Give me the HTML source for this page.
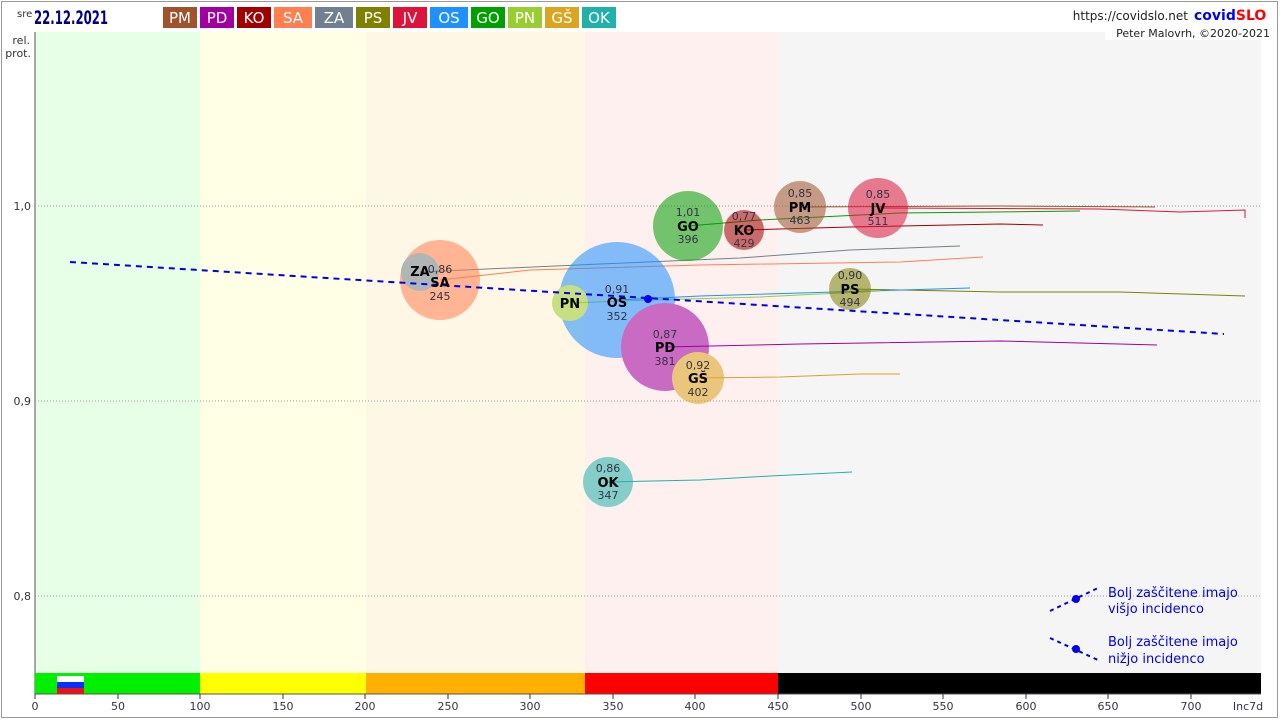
<!DOCTYPE html>
<html><head><meta charset="utf-8"><style>
body{margin:0;background:#fff;}
svg{display:block;font-family:"DejaVu Sans","Liberation Sans",sans-serif;}
</style></head><body>
<svg width="1280" height="720" viewBox="0 0 1280 720" xmlns="http://www.w3.org/2000/svg">
<rect x="0" y="0" width="1280" height="720" fill="#fff"/>
<rect x="1.5" y="1.5" width="1276" height="716" fill="none" stroke="#999" stroke-width="1"/>
<!-- bands -->
<rect x="35" y="32" width="165" height="641" fill="#e6ffe6"/>
<rect x="200" y="32" width="166" height="641" fill="#ffffe6"/>
<rect x="366" y="32" width="219" height="641" fill="#fff7e6"/>
<rect x="585" y="32" width="193" height="641" fill="#fff0f0"/>
<rect x="778" y="32" width="483" height="641" fill="#f5f5f5"/>
<rect x="1105" y="26" width="160" height="14" fill="#fff"/>
<line x1="35" y1="32" x2="35" y2="696" stroke="#555"/>
<!-- grid -->
<g stroke="#999" stroke-dasharray="1,2">
<line x1="35" y1="206" x2="1261" y2="206"/>
<line x1="35" y1="401" x2="1261" y2="401"/>
<line x1="35" y1="596" x2="1261" y2="596"/>
</g>
<g font-size="11" fill="#333" text-anchor="end">
<text x="31" y="210">1,0</text><text x="31" y="405">0,9</text><text x="31" y="600">0,8</text>
<text x="30" y="44">rel.</text><text x="31" y="57">prot.</text>
</g>
<!-- color bar -->
<rect x="35" y="673" width="165" height="21" fill="#00f000"/>
<rect x="200" y="673" width="166" height="21" fill="#ffff00"/>
<rect x="366" y="673" width="219" height="21" fill="#ffb000"/>
<rect x="585" y="673" width="193" height="21" fill="#ff0000"/>
<rect x="778" y="673" width="483" height="21" fill="#000"/>
<rect x="57" y="676" width="27" height="6" fill="#fff"/><rect x="57" y="682" width="27" height="6" fill="#0033ff"/><rect x="57" y="688" width="27" height="6" fill="#ee1111"/>
<line x1="35" y1="694" x2="1261" y2="694" stroke="#555"/>
<g stroke="#333">
<line x1="35" y1="694" x2="35" y2="699"/><line x1="118" y1="694" x2="118" y2="699"/><line x1="200" y1="694" x2="200" y2="699"/><line x1="283" y1="694" x2="283" y2="699"/><line x1="365" y1="694" x2="365" y2="699"/><line x1="448" y1="694" x2="448" y2="699"/><line x1="530" y1="694" x2="530" y2="699"/><line x1="613" y1="694" x2="613" y2="699"/><line x1="695" y1="694" x2="695" y2="699"/><line x1="778" y1="694" x2="778" y2="699"/><line x1="861" y1="694" x2="861" y2="699"/><line x1="943" y1="694" x2="943" y2="699"/><line x1="1026" y1="694" x2="1026" y2="699"/><line x1="1108" y1="694" x2="1108" y2="699"/><line x1="1191" y1="694" x2="1191" y2="699"/>
</g>
<g font-size="11" fill="#334" text-anchor="middle">
<text x="35" y="710">0</text><text x="118" y="710">50</text><text x="200" y="710">100</text><text x="283" y="710">150</text><text x="365" y="710">200</text><text x="448" y="710">250</text><text x="530" y="710">300</text><text x="613" y="710">350</text><text x="695" y="710">400</text><text x="778" y="710">450</text><text x="861" y="710">500</text><text x="943" y="710">550</text><text x="1026" y="710">600</text><text x="1108" y="710">650</text><text x="1191" y="710">700</text><text x="1248" y="710">Inc7d</text>
</g>
<!-- header -->
<text x="17" y="17" font-size="10" fill="#333">sre</text>
<text x="34" y="24" font-size="19" font-weight="bold" fill="#000080" textLength="74" lengthAdjust="spacingAndGlyphs">22.12.2021</text>
<g font-size="15" fill="#fff" text-anchor="middle">
<rect x="163" y="7" width="34" height="21" fill="#a0522d"/><text x="180" y="23">PM</text>
<rect x="200" y="7" width="34" height="21" fill="#a000a0"/><text x="217" y="23">PD</text>
<rect x="237" y="7" width="34" height="21" fill="#a00000"/><text x="254" y="23">KO</text>
<rect x="274" y="7" width="38" height="21" fill="#ff7f50"/><text x="293" y="23">SA</text>
<rect x="315" y="7" width="38" height="21" fill="#708090"/><text x="334" y="23">ZA</text>
<rect x="356" y="7" width="34" height="21" fill="#808000"/><text x="373" y="23">PS</text>
<rect x="393" y="7" width="34" height="21" fill="#dc143c"/><text x="410" y="23">JV</text>
<rect x="430" y="7" width="38" height="21" fill="#1e90ff"/><text x="449" y="23">OS</text>
<rect x="471" y="7" width="34" height="21" fill="#00a000"/><text x="488" y="23">GO</text>
<rect x="508" y="7" width="34" height="21" fill="#9acd32"/><text x="525" y="23">PN</text>
<rect x="545" y="7" width="34" height="21" fill="#daa520"/><text x="562" y="23">GŠ</text>
<rect x="582" y="7" width="34" height="21" fill="#20b2aa"/><text x="599" y="23">OK</text>
</g>
<text x="1188" y="20" font-size="12" fill="#222" text-anchor="end">https://covidslo.net</text>
<text x="1194" y="20" font-size="14" font-weight="bold" fill="#0000ff">covid<tspan fill="#ff0000">SLO</tspan></text>
<text x="1270" y="37" font-size="11" fill="#222" text-anchor="end">Peter Malovrh, ©2020-2021</text>
<!-- trails -->
<g fill="none" stroke-width="1">
<polyline points="800,207 1000,206 1155,207" stroke="#a0522d"/>
<polyline points="878,208 1100,209 1180,212 1245,210 1245,218" stroke="#dc143c"/>
<polyline points="688,226 760,220 900,213 1080,211" stroke="#00a000"/>
<polyline points="744,230 850,227 1000,224 1043,225" stroke="#a00000"/>
<polyline points="420,272 600,264 740,258 850,250 960,246" stroke="#708090"/>
<polyline points="440,280 530,270 700,265 900,262 983,257" stroke="#ff7f50"/>
<polyline points="850,289 1000,292 1120,292 1245,296" stroke="#808000"/>
<polyline points="617,300 700,296 800,293 970,288" stroke="#1e90ff"/>
<polyline points="570,303 650,300 760,297 880,291" stroke="#9acd32"/>
<polyline points="665,347 800,344 1000,341 1157,345" stroke="#a000a0"/>
<polyline points="698,378 780,377 860,374 900,374" stroke="#daa520"/>
<polyline points="608,482 700,480 770,476 852,472" stroke="#20b2aa"/>
</g>
<!-- bubbles -->
<g opacity="0.55">
<circle cx="440" cy="280" r="40" fill="#ff7f50"/>
<circle cx="617" cy="300" r="58" fill="#1e90ff"/>
<circle cx="665" cy="347" r="44" fill="#a000a0"/>
<circle cx="698" cy="378" r="26" fill="#daa520"/>
<circle cx="688" cy="226" r="35" fill="#00a000"/>
<circle cx="744" cy="230" r="20" fill="#a00000"/>
<circle cx="800" cy="207" r="26" fill="#a0522d"/>
<circle cx="878" cy="208" r="30" fill="#dc143c"/>
<circle cx="850" cy="289" r="21" fill="#808000"/>
<circle cx="608" cy="482" r="25" fill="#20b2aa"/>
<circle cx="570" cy="303" r="18" fill="#9acd32"/>
<circle cx="420" cy="272" r="19" fill="#708090"/>
</g>
<!-- trend -->
<line x1="70" y1="262" x2="1224" y2="334" stroke="#0000ee" stroke-width="2" stroke-dasharray="6,5"/>
<circle cx="648" cy="299" r="4" fill="#0000ee"/>
<!-- labels -->
<g text-anchor="middle" font-size="11" fill="#334">
<text x="440" y="273">0,86</text><text x="440" y="300">245</text>
<text x="617" y="293">0,91</text><text x="617" y="320">352</text>
<text x="665" y="338">0,87</text><text x="665" y="365">381</text>
<text x="698" y="369">0,92</text><text x="698" y="396">402</text>
<text x="688" y="216">1,01</text><text x="688" y="243">396</text>
<text x="744" y="220">0,77</text><text x="744" y="247">429</text>
<text x="800" y="197">0,85</text><text x="800" y="224">463</text>
<text x="878" y="198">0,85</text><text x="878" y="225">511</text>
<text x="850" y="279">0,90</text><text x="850" y="306">494</text>
<text x="608" y="472">0,86</text><text x="608" y="499">347</text>
</g>
<g text-anchor="middle" font-size="13" font-weight="bold" fill="#000">
<text x="440" y="287">SA</text><text x="420" y="276">ZA</text><text x="617" y="307">OS</text><text x="665" y="352">PD</text><text x="698" y="383">GŠ</text><text x="688" y="231">GO</text><text x="744" y="235">KO</text><text x="800" y="212">PM</text><text x="878" y="213">JV</text><text x="850" y="294">PS</text><text x="608" y="487">OK</text><text x="570" y="308">PN</text>
</g>
<!-- legend -->
<line x1="1050" y1="611" x2="1098" y2="588" stroke="#0000ee" stroke-width="2" stroke-dasharray="4,4"/>
<circle cx="1076" cy="599" r="4" fill="#0000ee"/>
<line x1="1050" y1="638" x2="1098" y2="660" stroke="#0000ee" stroke-width="2" stroke-dasharray="4,4"/>
<circle cx="1076" cy="649" r="4" fill="#0000ee"/>
<g font-size="13" fill="#0000ee">
<text x="1108" y="597">Bolj  zaščitene imajo</text><text x="1108" y="613">višjo incidenco</text>
<text x="1108" y="646">Bolj  zaščitene imajo</text><text x="1108" y="663">nižjo incidenco</text>
</g>
</svg>
</body></html>
